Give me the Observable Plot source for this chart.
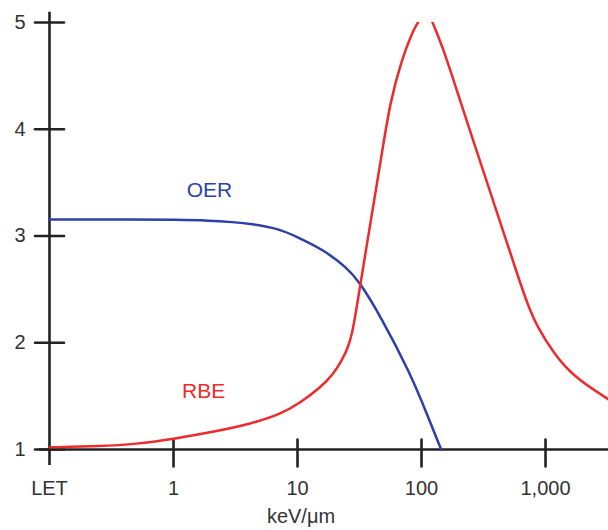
<!DOCTYPE html>
<html>
<head>
<meta charset="utf-8">
<script src="https://cdn.jsdelivr.net/npm/d3@7"></script>
<script src="https://cdn.jsdelivr.net/npm/@observablehq/plot@0.6"></script>
<style>
  html, body { margin: 0; padding: 0; background: #fff; }
  svg { display: block; }
</style>
</head>
<body>
<div id="chart"></div>
<script>
// RBE curve (LET in keV/µm, value)
const rbeLET = [0.1, 0.26, 0.5, 1, 2, 4.2, 7.3, 10.6, 15.3, 19.6, 22.9, 25.5, 27.6, 29.4, 31.8, 35.3, 41.2, 49.7, 56, 67.7, 86.7, 100, 113, 130, 151, 180, 281, 434, 628, 740, 857, 1167, 1690, 3220];
const rbeVal = [1.02, 1.03, 1.05, 1.10, 1.16, 1.24, 1.33, 1.44, 1.58, 1.71, 1.84, 1.95, 2.09, 2.27, 2.51, 2.84, 3.31, 3.89, 4.25, 4.62, 4.95, 5.05, 5.11, 4.93, 4.74, 4.47, 3.78, 3.12, 2.55, 2.32, 2.15, 1.90, 1.68, 1.47];
// OER curve
const oerLET = [0.1, 0.5, 1, 2, 3, 4.2, 7, 10, 16.3, 25.1, 31.2, 46.7, 81.5, 110, 144];
const oerVal = [3.155, 3.155, 3.152, 3.145, 3.13, 3.115, 3.07, 2.99, 2.87, 2.70, 2.58, 2.25, 1.71, 1.34, 1.0];
// Axis ticks
const xTicks = [0.1, 1, 10, 100, 1000];
const xTickLabels = ["LET", "1", "10", "100", "1,000"];
const yTicks = [1, 2, 3, 4, 5];
const seriesLabels = [
  {name: "OER", x: 1.95, y: 3.43, color: "#2e3fa8"},
  {name: "RBE", x: 1.75, y: 1.55, color: "#ee2a2b"}
];
const xAxisLabel = "keV/\u03BCm";

const rbe = rbeLET.map((x, i) => ({x, y: rbeVal[i]}));
const oer = oerLET.map((x, i) => ({x, y: oerVal[i]}));
const axisColor = "#222";
const lineShape = {draw(context, l) { context.moveTo(0, 0); context.lineTo(0, -l); }};

const chart = Plot.plot({
  width: 608,
  height: 530,
  marginLeft: 49,
  marginRight: 0,
  marginTop: 22,
  marginBottom: 81,
  style: {fontFamily: "'Liberation Sans', Arial, sans-serif", fontSize: "20px", background: "#fff"},
  x: {type: "log", domain: [0.1, 3220], axis: null},
  y: {domain: [1, 5], axis: null},
  marks: [
    Plot.ruleX([0.1], {y1: 0.85, y2: 5.095, stroke: axisColor, strokeWidth: 2.6}),
    Plot.ruleY([1], {x1: 0.083, x2: 3220, stroke: axisColor, strokeWidth: 2.6}),
    Plot.vector(yTicks, {x: 0.1, y: d => d, length: 29, rotate: 90, anchor: "middle", shape: lineShape, stroke: axisColor, strokeWidth: 2.6}),
    Plot.vector(xTicks.slice(1), {x: d => d, y: 1, length: 27, rotate: 0, anchor: "middle", dy: 3.5, shape: lineShape, stroke: axisColor, strokeWidth: 2.6}),
    Plot.text(yTicks, {x: 0.1, y: d => d, text: d => String(d), dx: -24, textAnchor: "end", fill: "#333", fontSize: 20}),
    Plot.text(xTicks, {x: d => d, y: 1, text: (d, i) => xTickLabels[i], dy: 39, textAnchor: "middle", fill: "#333", fontSize: 20}),
    Plot.text([xAxisLabel], {frameAnchor: "bottom", text: d => d, dx: -28, dy: 73, fill: "#333", fontSize: 20}),
    Plot.line(oer, {x: "x", y: "y", stroke: "#2e3fa8", strokeWidth: 2.5, curve: "basis"}),
    Plot.line(rbe, {x: "x", y: "y", stroke: "#ee2a2b", strokeWidth: 2.5, curve: "basis", clip: true}),
    Plot.text(seriesLabels, {x: "x", y: "y", text: "name", fill: "color", fontSize: 21, textAnchor: "middle"})
  ]
});
document.getElementById("chart").appendChild(chart);
</script>
</body>
</html>
